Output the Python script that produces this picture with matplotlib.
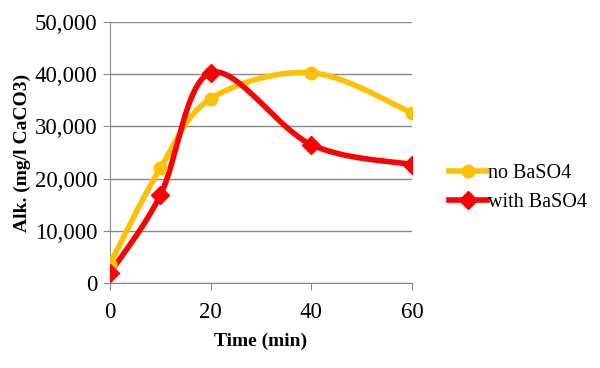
"""Alkalinity over time, with and without BaSO4 (Excel-style smoothed lines)."""

import numpy as np
import matplotlib
matplotlib.use("Agg")
import matplotlib.pyplot as plt

time_min = [0, 10, 20, 40, 60]
no_baso4 = [3700, 22000, 35300, 40300, 32600]
with_baso4 = [1900, 16800, 40300, 26500, 22700]
series_labels = ["no BaSO4", "with BaSO4"]
y_ticks = [0, 10000, 20000, 30000, 40000, 50000]
x_ticks = [0, 20, 40, 60]


def smooth_curve(xs, ys, sx, sy, n=40):
    """Catmull-Rom style smoothing like Excel, done in scaled (screen-ish) space."""
    px = np.asarray(xs, float) / sx
    py = np.asarray(ys, float) / sy
    pts = np.column_stack([px, py])
    out = []
    for i in range(len(pts) - 1):
        p0 = pts[i - 1] if i > 0 else pts[i]
        p1 = pts[i]
        p2 = pts[i + 1]
        p3 = pts[i + 2] if i + 2 < len(pts) else pts[i + 1]
        c1 = p1 + (p2 - p0) / 6.0
        c2 = p2 - (p3 - p1) / 6.0
        t = np.linspace(0, 1, n)[:, None]
        seg = ((1 - t) ** 3) * p1 + 3 * ((1 - t) ** 2) * t * c1 + 3 * (1 - t) * t ** 2 * c2 + t ** 3 * p2
        out.append(seg if i == 0 else seg[1:])
    seg = np.vstack(out)
    return seg[:, 0] * sx, seg[:, 1] * sy


plt.rcParams["font.family"] = ["Liberation Serif", "DejaVu Serif"]

fig = plt.figure(figsize=(6.0, 3.68), dpi=100)
ax = fig.add_axes([0.1833, 0.231, 0.5034, 0.709])
ax.set_xlim(0, 60)
ax.set_ylim(0, 50000)

# scale factors so the smoothing uses the axes' pixel aspect
sx = 60 / 302.0
sy = 50000 / 261.0

colors = ["#FFC000", "#FF0000"]
markers = ["o", "D"]
msizes = [9, 9]
for vals, lab, col, mk, ms in zip([no_baso4, with_baso4], series_labels, colors, markers, msizes):
    cx, cy = smooth_curve(time_min, vals, sx, sy)
    ax.plot(cx, cy, color=col, lw=4, solid_capstyle="round", zorder=3)
    ax.plot(time_min, vals, linestyle="none", marker=mk, ms=ms, color=col, zorder=4)
    ax.plot([], [], color=col, lw=4, marker=mk, ms=ms, label=lab)

ax.set_xticks(x_ticks)
ax.set_yticks(y_ticks)
ax.set_yticklabels([f"{v:,}" for v in y_ticks])
ax.yaxis.grid(True, color="#888888", lw=1)
ax.set_axisbelow(True)
for s in ["top", "right"]:
    ax.spines[s].set_visible(False)
for s in ["left", "bottom"]:
    ax.spines[s].set_color("#888888")
ax.tick_params(axis="both", colors="#888888", labelcolor="black", labelsize=16.5, length=5)
ax.tick_params(axis="x", pad=9)
ax.tick_params(axis="y", pad=4)

ax.set_xlabel("Time (min)", fontsize=14, fontweight="bold", labelpad=7)
ax.set_ylabel("Alk. (mg/l CaCO3)", fontsize=14, fontweight="bold", labelpad=3)

ax.legend(loc="center left", bbox_to_anchor=(0.735, 0.49), bbox_transform=fig.transFigure,
          frameon=False, fontsize=14.5, handlelength=1.9, handletextpad=0.05,
          labelspacing=0.5, borderaxespad=0)

fig.savefig("out.png", dpi=100)
